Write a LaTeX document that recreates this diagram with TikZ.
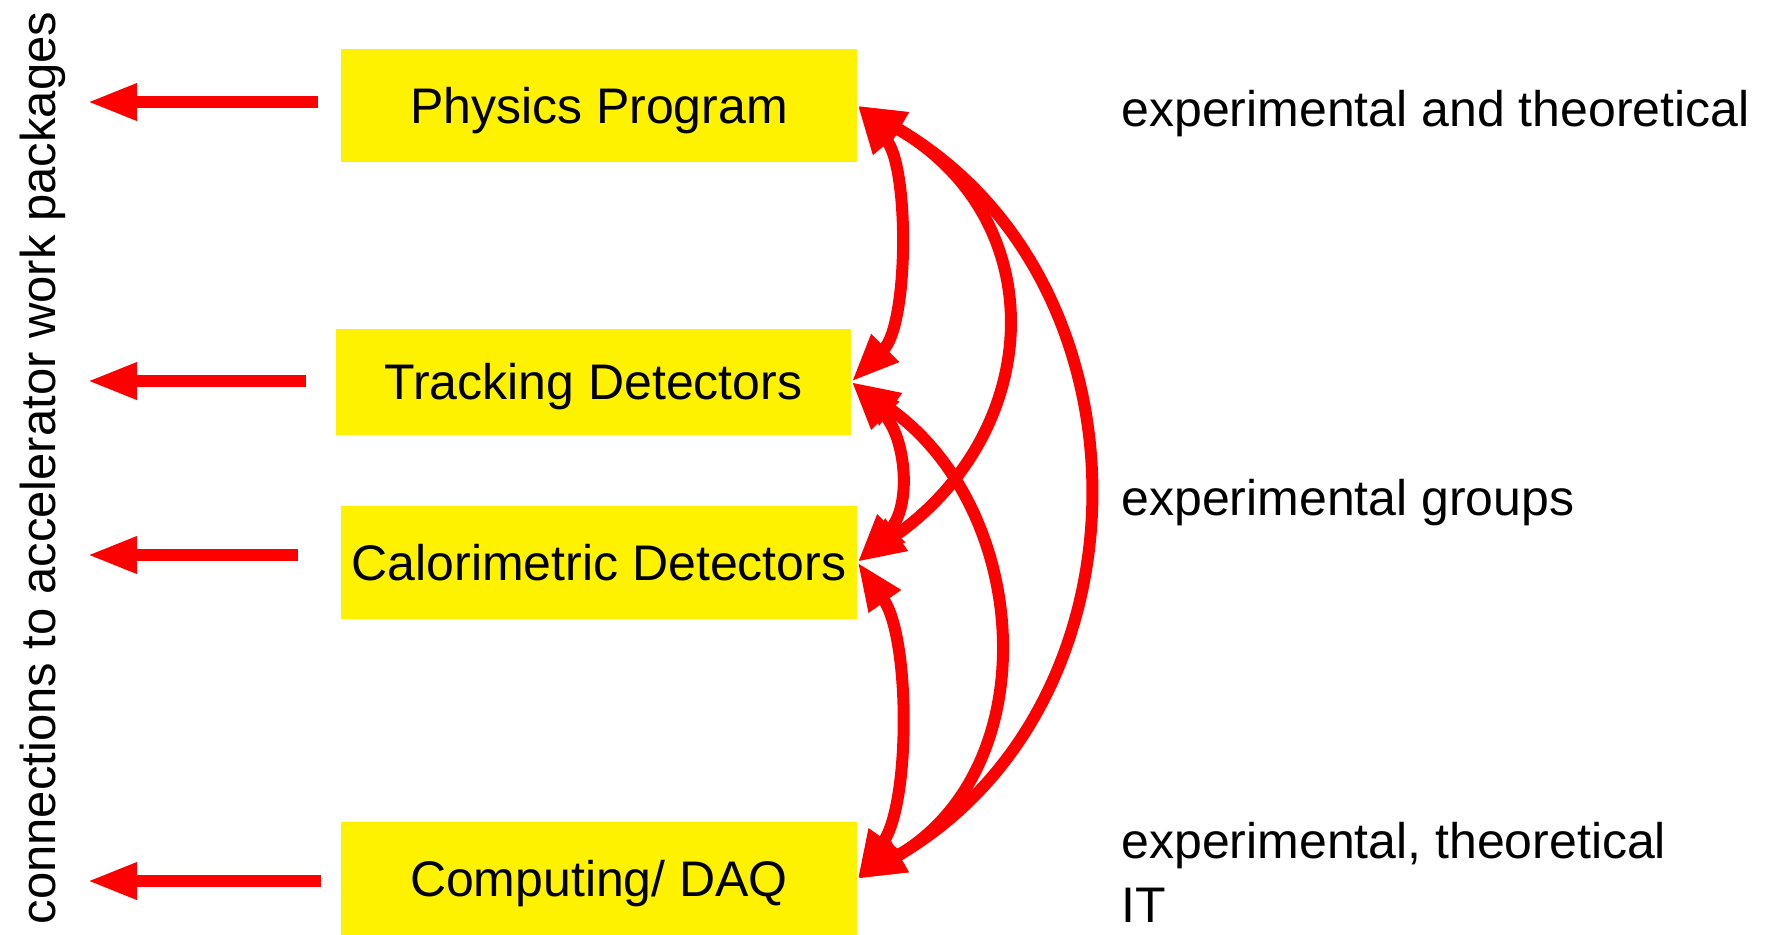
\documentclass[tikz,border=0pt]{standalone}
\usepackage{fontspec}
\setmainfont{Liberation Sans}
\usetikzlibrary{arrows.meta, positioning}

\begin{document}
\begin{tikzpicture}[
    x=0.5pt, y=0.5pt,
    font=\fontsize{25}{32}\selectfont,
    box/.style={fill=yellow, minimum width=258pt, minimum height=56.5pt, inner sep=2pt, text height=18pt, text depth=0pt},
    note/.style={anchor=west, inner sep=0pt, align=left},
    arrow/.style={-{Triangle[length=25pt, width=17pt]}, red, line width=6pt},
    link/.style={{Triangle[length=24pt, width=18pt]}-{Triangle[length=24pt, width=18pt]}, red, line width=6pt}
]
\useasboundingbox (0,0) rectangle (1776,-934);

    % Nodes
    \node[box] (phys) at (599,-105.5) {Physics Program};
    \node[box, minimum width=257.5pt, minimum height=53pt, below=83pt of phys, xshift=-2.75pt] (trk) {Tracking Detectors};
    \node[box, below=35pt of trk, xshift=2.75pt] (cal) {Calorimetric Detectors};
    \node[box, below=101.5pt of cal] (comp) {Computing/ DAQ};

    \node[note] (expth) at (1121,-114) {experimental and theoretical};
    \node[note] (expgr) at (1121,-503) {experimental groups};
    \node[note] (expit) at (1121,-872) {experimental, theoretical\\IT};
    \node[rotate=90, inner sep=0pt, font=\fontsize{24.5}{30}\selectfont] (side) at (43,-468) {connections to accelerator work packages};

    % Tips of the side arrows
    \coordinate (t1) at (87,-102);
    \coordinate (t2) at (87,-381);
    \coordinate (t3) at (87,-555);
    \coordinate (t4) at (87,-881);

    % Edges
    \draw[arrow, shorten <=11.5pt] (phys.west |- t1) -- (t1);
    \draw[arrow, shorten <=15pt] (trk.west |- t2) -- (t2);
    \draw[arrow, shorten <=21.5pt] (cal.west |- t3) -- (t3);
    \draw[arrow, shorten <=10pt] (comp.west |- t4) -- (t4);

    \draw[link] (phys.east) to[out=-50, in=45, looseness=0.75] (trk.east);
    \draw[link] (trk.east) to[out=-45, in=45, looseness=1.1] (cal.east);
    \draw[link] (cal.east) to[out=-55, in=55, looseness=0.75] (comp.east);
    \draw[link] (phys.east) to[out=-30, in=35, looseness=1.28] (cal.east);
    \draw[link] (phys.east) to[out=-30, in=30, looseness=1.15] (comp.east);
    \draw[link] (trk.east) to[out=-35, in=30, looseness=1.13] (comp.east);
\end{tikzpicture}
\end{document}
